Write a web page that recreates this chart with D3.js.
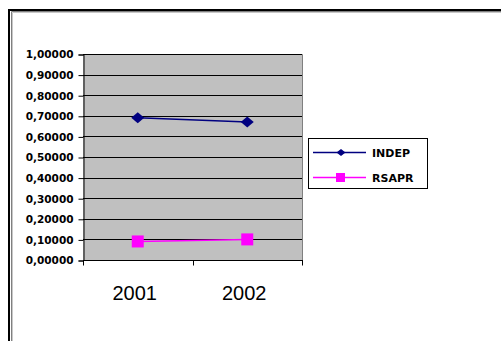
<!DOCTYPE html>
<html><head><meta charset="utf-8">
<script src="https://cdn.jsdelivr.net/npm/d3@7"></script>
<style>body{margin:0;background:#fff}svg{display:block}</style>
</head><body>
<svg id="c" width="501" height="341"></svg>
<script>
const categories = ["2001", "2002"];
const seriesNames = ["INDEP", "RSAPR"];
const indepValues = [0.69, 0.67];
const rsaprValues = [0.09, 0.10];
const yTicks = [0, 0.1, 0.2, 0.3, 0.4, 0.5, 0.6, 0.7, 0.8, 0.9, 1.0];
const yTickLabels = ["0,00000","0,10000","0,20000","0,30000","0,40000","0,50000","0,60000","0,70000","0,80000","0,90000","1,00000"];

const svg = d3.select("#c");
// outer chart border
svg.append("rect").attr("x",9).attr("y",10).attr("width",600).attr("height",400)
  .attr("fill","#fff").attr("stroke","#000").attr("stroke-width",2);
svg.append("path").attr("d","M11.5,400V11.5H600").attr("fill","none").attr("stroke","#808080").attr("stroke-width",1);
svg.append("path").attr("d","M12.5,400V12.5H600").attr("fill","none").attr("stroke","#c8c8c8").attr("stroke-width",1);

const L = 83, R = 302, T = 54, B = 260;
const x = d3.scaleBand().domain(categories).range([L, R]);
const y = d3.scaleLinear().domain([0, 1]).range([B, T]);

svg.append("rect").attr("x",L).attr("y",T).attr("width",R-L).attr("height",B-T)
  .attr("fill","#c0c0c0");
// plot border top/right
svg.append("path").attr("d",`M${L},${T+0.5}H${R+0.5}V${B}`).attr("fill","none").attr("stroke","#808080");

// gridlines
svg.append("g").selectAll("line").data(yTicks.filter(d=>d>0)).join("line")
  .attr("x1",L).attr("x2",R).attr("y1",d=>Math.round(y(d))+0.5).attr("y2",d=>Math.round(y(d))+0.5)
  .attr("stroke","#000").attr("stroke-width",1);

// y axis
const yAxis = d3.axisLeft(y).tickValues(yTicks).tickSize(5).tickPadding(5)
  .tickFormat((d,i)=>yTickLabels[i]);
const gy = svg.append("g").attr("transform",`translate(${L+0.5},0.5)`).call(yAxis);
gy.select(".domain").attr("stroke","#000");
gy.selectAll(".tick line").attr("stroke","#000");
gy.selectAll("text").attr("font-family","DejaVu Sans").attr("font-weight","bold")
  .attr("font-size","10.5px").attr("fill","#000");

// x axis
const gx = svg.append("g").attr("transform",`translate(0,${B+0.5})`);
gx.append("line").attr("x1",L).attr("x2",R+1).attr("y1",0).attr("y2",0).attr("stroke","#000");
const tickXs = categories.map(c=>x(c)).concat([R]);
gx.selectAll("line.t").data(tickXs).join("line").attr("class","t")
  .attr("x1",d=>Math.round(d)+0.5).attr("x2",d=>Math.round(d)+0.5).attr("y1",0).attr("y2",5).attr("stroke","#000");
gx.selectAll("text").data(categories).join("text")
  .attr("x",d=>x(d)+x.bandwidth()/2-3).attr("y",39)
  .attr("text-anchor","middle").attr("font-family","Liberation Sans, Arial").attr("font-size","20px")
  .attr("fill","#000").text(d=>d);

const cx = d => x(d) + x.bandwidth()/2;
const line = d3.line().x(d=>cx(d.c)).y(d=>y(d.v));
const indep = categories.map((c,i)=>({c, v: indepValues[i]}));
const rsapr = categories.map((c,i)=>({c, v: rsaprValues[i]}));

svg.append("path").datum(indep).attr("d",line).attr("fill","none").attr("stroke","#000080").attr("stroke-width",1.5);
svg.append("path").datum(rsapr).attr("d",line).attr("fill","none").attr("stroke","#ff00ff").attr("stroke-width",1.5);

const diamond = (px,py,r)=>`M${px},${py-r}L${px+r+1},${py}L${px},${py+r}L${px-r-1},${py}Z`;
svg.append("g").selectAll("path").data(indep).join("path")
  .attr("d",d=>diamond(cx(d.c),y(d.v),5.5)).attr("fill","#000080");
svg.append("g").selectAll("rect").data(rsapr).join("rect")
  .attr("x",d=>cx(d.c)-6).attr("y",d=>y(d.v)-6).attr("width",12).attr("height",12).attr("fill","#ff00ff");

// legend
const lg = svg.append("g");
lg.append("rect").attr("x",308.5).attr("y",138.5).attr("width",119).attr("height",50)
  .attr("fill","#fff").attr("stroke","#000").attr("stroke-width",1);
const legColors = ["#000080","#ff00ff"];
const legY = [152, 177];
seriesNames.forEach((n,i)=>{
  const yy = legY[i];
  lg.append("line").attr("x1",313).attr("x2",366).attr("y1",yy+0.5).attr("y2",yy+0.5)
    .attr("stroke",legColors[i]).attr("stroke-width",1.5);
  if(i===0) lg.append("path").attr("d",diamond(341,yy+0.5,3.5)).attr("fill",legColors[i]);
  else lg.append("rect").attr("x",336).attr("y",yy-4).attr("width",9).attr("height",9).attr("fill",legColors[i]);
  lg.append("text").attr("x",372).attr("y",yy+4.5).attr("font-family","DejaVu Sans")
    .attr("font-weight","bold").attr("font-size","11px").attr("fill","#000").text(n);
});
</script>
</body></html>
